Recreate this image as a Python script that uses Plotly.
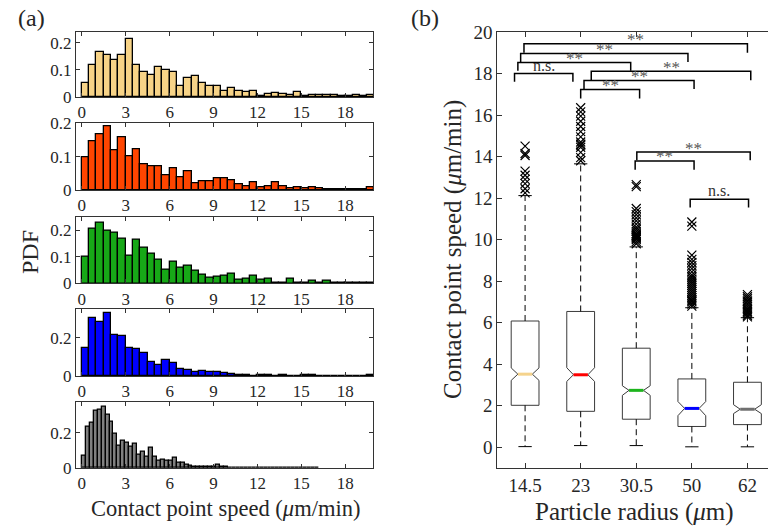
import plotly.graph_objects as go

# ---------------- data ----------------
bin_width_main = 0.5
bin_width_last = 0.27

pdf_r145 = [0.051, 0.118, 0.165, 0.155, 0.137, 0.155, 0.213, 0.118, 0.091, 0.082,
            0.110, 0.098, 0.093, 0.041, 0.072, 0.077, 0.051, 0.041, 0.041, 0.021,
            0.032, 0.024, 0.020, 0.024, 0.005, 0.010, 0.013, 0.010, 0.006, 0.018,
            0.005, 0.009, 0.007, 0.006, 0.006, 0.002, 0.002, 0.006, 0.002, 0.006]
pdf_r23 = [0.097, 0.145, 0.168, 0.191, 0.119, 0.157, 0.100, 0.122, 0.078, 0.070,
           0.072, 0.044, 0.066, 0.037, 0.056, 0.021, 0.027, 0.027, 0.034, 0.034,
           0.030, 0.018, 0.011, 0.022, 0.007, 0.010, 0.022, 0.011, 0.005, 0.009,
           0.005, 0.008, 0.004, 0.002, 0.002, 0.002, 0.001, 0.001, 0.001, 0.008]
pdf_r305 = [0.098, 0.206, 0.228, 0.198, 0.190, 0.168, 0.104, 0.163, 0.134, 0.110,
            0.090, 0.050, 0.081, 0.060, 0.065, 0.046, 0.031, 0.021, 0.026, 0.030,
            0.035, 0.013, 0.018, 0.030, 0.013, 0.018, 0.001, 0.001, 0.018, 0.004,
            0.004, 0.009, 0.002, 0.008, 0.001, 0.001, 0.001, 0.001, 0.004, 0.004]
pdf_r50 = [0.147, 0.302, 0.281, 0.329, 0.216, 0.207, 0.147, 0.143, 0.122, 0.074,
           0.057, 0.083, 0.066, 0.034, 0.029, 0.022, 0.028, 0.022, 0.021, 0.017,
           0.012, 0.007, 0.004, 0.002, 0.004, 0.004, 0.002, 0.003, 0.001, 0.001,
           0.004, 0.005, 0.002, 0.001, 0.001, 0.002, 0.001, 0.001, 0.002, 0.004]
pdf_r62 = [0.072, 0.232, 0.259, 0.326, 0.330, 0.349, 0.302, 0.264, 0.196, 0.125,
           0.152, 0.142, 0.120, 0.140, 0.078, 0.090, 0.065, 0.113, 0.065, 0.040,
           0.045, 0.042, 0.040, 0.056, 0.030, 0.028, 0.020, 0.015, 0.010, 0.010,
           0.006, 0.010, 0.008, 0.005, 0.020, 0.008, 0.005, 0.004, 0.003, 0.004,
           0.003, 0.002, 0.003, 0.002, 0.002, 0.003, 0.002, 0.002, 0.001, 0.002,
           0.002, 0.001, 0.001, 0.002, 0.001, 0.003, 0.001, 0.001, 0.002, 0.001]

hist_series = [pdf_r145, pdf_r23, pdf_r305, pdf_r50, pdf_r62]
hist_widths = [bin_width_main] * 4 + [bin_width_last]
hist_colors = ['#F7D387', '#FF4500', '#17A817', '#0000FF', '#808080']
hist_ymax = [0.24, 0.2, 0.25, 0.35, 0.375]
hist_yticks = [[0, 0.1, 0.2], [0, 0.1, 0.2], [0, 0.1, 0.2], [0, 0.2], [0, 0.2]]
speed_ticks = [0, 3, 6, 9, 12, 15, 18]

radius_labels = ['14.5', '23', '30.5', '50', '62']
median_colors = ['#F5D38C', '#FF0000', '#1DB41D', '#0000FF', '#707070']
q1 = [2.02, 1.73, 1.35, 1.00, 1.09]
q3 = [6.08, 6.54, 4.77, 3.29, 3.13]
medians = [3.52, 3.49, 2.74, 1.87, 1.83]
notch_lo = [3.22, 3.17, 2.50, 1.52, 1.62]
notch_hi = [3.82, 3.83, 2.96, 2.20, 2.05]
whisk_lo = [0.03, 0.08, 0.08, 0.02, 0.02]
whisk_hi = [12.12, 13.65, 9.65, 6.72, 6.24]
outliers = [
    [12.25, 12.45, 12.7, 12.9, 13.1, 13.3, 14.05, 14.15, 14.5],
    [13.8, 13.95, 14.2, 14.45, 14.55, 14.6, 14.7, 14.95, 15.2, 15.45, 15.7, 15.95, 16.15, 16.35],
    [9.8, 9.9, 10.0, 10.05, 10.1, 10.15, 10.2, 10.25, 10.3, 10.4, 10.5, 10.6, 10.75, 10.9,
     11.05, 11.2, 11.35, 11.5, 12.55, 12.65],
    [6.8, 6.9, 7.0, 7.05, 7.1, 7.2, 7.3, 7.4, 7.5, 7.6, 7.7, 7.8, 7.9, 8.0, 8.1, 8.2, 8.3,
     8.45, 8.6, 8.75, 8.9, 9.05, 9.25, 10.65, 10.85],
    [6.28, 6.35, 6.42, 6.5, 6.55, 6.62, 6.7, 6.8, 6.9, 7.0, 7.05, 7.15, 7.25, 7.35],
]

# significance brackets: left end, right end, top level, leg end, label
sig_left = [0.81, 0.87, 0.92, 0.98, 2.00, 2.06, 2.19, 2.98, 3.01, 3.97]
sig_right = [1.86, 2.90, 3.93, 5.00, 3.06, 4.04, 5.06, 4.04, 5.05, 5.02]
sig_top = [18.00, 18.53, 18.97, 19.43, 17.23, 17.67, 18.11, 13.79, 14.22, 11.94]
sig_leg = [17.60, 18.13, 18.56, 19.00, 16.80, 17.25, 17.68, 13.37, 13.82, 11.55]
sig_label = ['n.s.', '**', '**', '**', '**', '**', '**', '**', '**', 'n.s.']

# ---------------- figure ----------------
W, H = 768, 529
FONT = 'Liberation Serif'
TXT = '#262626'
AX = '#333333'

fig = go.Figure()

def px_x(p):
    return p / W

def px_y(p):
    return 1 - p / H

panel_px = [(32, 97), (123.3, 190), (216.7, 283.3), (309, 376), (401.7, 468)]
layout_axes = {}

for k, vals in enumerate(hist_series):
    n = k + 1
    w = hist_widths[k]
    centers = [w * (i + 0.5) for i in range(len(vals))]
    fig.add_trace(go.Bar(
        x=centers, y=vals, width=w,
        marker=dict(color=hist_colors[k], line=dict(color='black', width=1.3)),
        xaxis=f'x{n}', yaxis=f'y{n}', showlegend=False))
    top, bot = panel_px[k]
    layout_axes[f'xaxis{n}'] = dict(
        domain=[px_x(76), px_x(373)], range=[-0.4, 19.9], anchor=f'y{n}',
        tickvals=speed_ticks, ticks='inside', ticklen=4, tickcolor=AX,
        showline=True, linecolor=AX, linewidth=1, mirror='ticks',
        showgrid=False, zeroline=False, automargin=False,
        tickfont=dict(family=FONT, size=17, color=TXT))
    layout_axes[f'yaxis{n}'] = dict(
        domain=[px_y(bot), px_y(top)], range=[0, hist_ymax[k]], anchor=f'x{n}',
        tickvals=hist_yticks[k], ticks='inside', ticklen=4, tickcolor=AX,
        showline=True, linecolor=AX, linewidth=1, mirror='ticks',
        showgrid=False, zeroline=False, automargin=False,
        tickfont=dict(family=FONT, size=17, color=TXT))

# ---- box plot (panel b) ----
bw, nw, cw = 0.25, 0.13, 0.12
for i in range(5):
    c = i + 1
    bx = [c - bw, c + bw, c + bw, c + nw, c + bw, c + bw, c - bw, c - bw, c - nw, c - bw, c - bw]
    by = [q1[i], q1[i], notch_lo[i], medians[i], notch_hi[i], q3[i], q3[i], notch_hi[i],
          medians[i], notch_lo[i], q1[i]]
    fig.add_trace(go.Scatter(x=bx, y=by, mode='lines', line=dict(color='#3a3a3a', width=1),
                             xaxis='x6', yaxis='y6', showlegend=False, hoverinfo='skip'))
    fig.add_trace(go.Scatter(x=[c, c, None, c, c], y=[q3[i], whisk_hi[i], None, q1[i], whisk_lo[i]],
                             mode='lines', line=dict(color='black', width=1, dash='6px,4px'),
                             xaxis='x6', yaxis='y6', showlegend=False, hoverinfo='skip'))
    fig.add_trace(go.Scatter(x=[c - cw, c + cw, None, c - cw, c + cw],
                             y=[whisk_hi[i], whisk_hi[i], None, whisk_lo[i], whisk_lo[i]],
                             mode='lines', line=dict(color='black', width=1),
                             xaxis='x6', yaxis='y6', showlegend=False, hoverinfo='skip'))
    fig.add_trace(go.Scatter(x=[c - nw, c + nw], y=[medians[i], medians[i]], mode='lines',
                             line=dict(color=median_colors[i], width=3),
                             xaxis='x6', yaxis='y6', showlegend=False, hoverinfo='skip'))
    fig.add_trace(go.Scatter(x=[c] * len(outliers[i]), y=outliers[i], mode='markers',
                             marker=dict(symbol='x-thin-open', size=9, color='black',
                                         line=dict(color='black', width=1.2)),
                             xaxis='x6', yaxis='y6', showlegend=False, hoverinfo='skip'))

for a, b, t, l, lab in zip(sig_left, sig_right, sig_top, sig_leg, sig_label):
    fig.add_trace(go.Scatter(x=[a, a, b, b], y=[l, t, t, l], mode='lines',
                             line=dict(color='black', width=1.5),
                             xaxis='x6', yaxis='y6', showlegend=False, hoverinfo='skip'))
    if lab == '**':
        fig.add_annotation(x=(a + b) / 2, y=t, xref='x6', yref='y6', text='**',
                           showarrow=False, yanchor='middle', yshift=4,
                           font=dict(family=FONT, size=17, color='#555555'))
    else:
        fig.add_annotation(x=(a + b) / 2, y=t, xref='x6', yref='y6', text='n.s.',
                           showarrow=False, yanchor='bottom', yshift=-2,
                           font=dict(family=FONT, size=16, color='#333333'))

layout_axes['xaxis6'] = dict(
    domain=[px_x(497.3), 1.0], range=[0.5, 5.37], anchor='y6',
    tickvals=[1, 2, 3, 4, 5], ticktext=radius_labels,
    ticks='inside', ticklen=5, tickcolor=AX,
    showline=True, linecolor=AX, linewidth=1, mirror='ticks',
    showgrid=False, zeroline=False, automargin=False,
    tickfont=dict(family=FONT, size=19, color=TXT))
layout_axes['yaxis6'] = dict(
    domain=[px_y(468), px_y(32)], range=[-1, 20], anchor='x6',
    tickvals=list(range(0, 21, 2)),
    ticks='inside', ticklen=5, tickcolor=AX,
    showline=True, linecolor=AX, linewidth=1, mirror=False,
    showgrid=False, zeroline=False, automargin=False,
    tickfont=dict(family=FONT, size=19, color=TXT))

annotations = [
    dict(x=px_x(225), y=px_y(508), text='Contact point speed (<i>μ</i>m/min)',
         font=dict(family=FONT, size=22.5, color=TXT)),
    dict(x=px_x(30), y=px_y(252), text='PDF', textangle=-90,
         font=dict(family=FONT, size=24, color=TXT)),
    dict(x=px_x(453), y=px_y(250), text='Contact point speed (<i>μ</i>m/min)', textangle=-90,
         font=dict(family=FONT, size=25, color=TXT)),
    dict(x=px_x(634), y=px_y(512), text='Particle radius (<i>μ</i>m)',
         font=dict(family=FONT, size=25, color=TXT)),
    dict(x=px_x(31), y=px_y(18), text='(a)', font=dict(family=FONT, size=24, color=TXT)),
    dict(x=px_x(425), y=px_y(18), text='(b)', font=dict(family=FONT, size=24, color=TXT)),
]
for an in annotations:
    fig.add_annotation(xref='paper', yref='paper', showarrow=False,
                       xanchor='center', yanchor='middle', **an)

fig.update_layout(
    width=W, height=H, margin=dict(l=0, r=0, t=0, b=0, pad=0, autoexpand=False),
    paper_bgcolor='white', plot_bgcolor='white', bargap=0, showlegend=False,
    **layout_axes)

fig.write_html('out.html', config={'displayModeBar': False},
               post_script="document.body.style.margin='0';document.body.style.overflow='hidden';")
